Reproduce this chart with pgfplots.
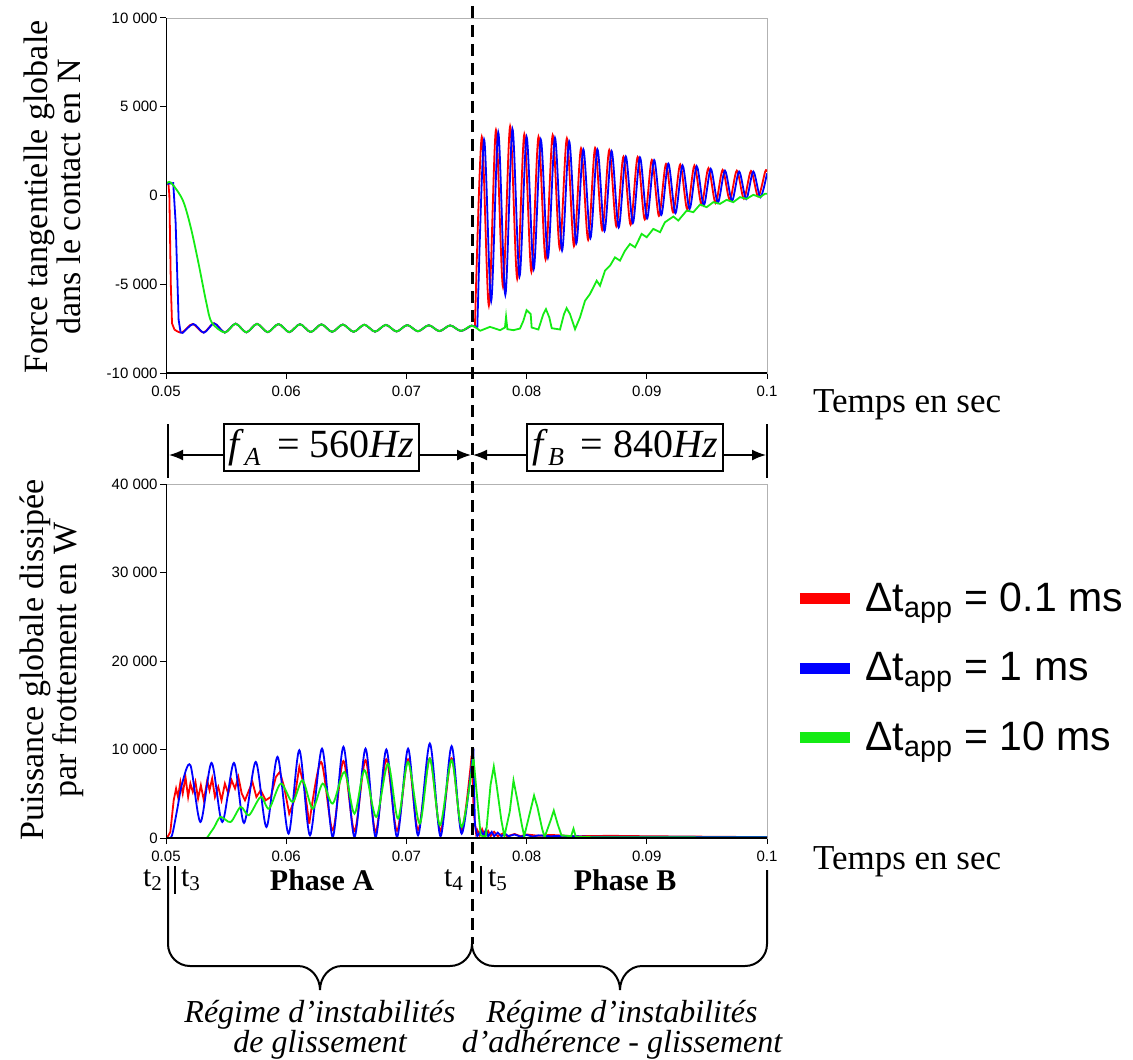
\documentclass[border=0pt]{standalone}
\usepackage{fontspec}
\setmainfont{Liberation Serif}
\setsansfont{Liberation Sans}
\usepackage{pgfplots}
\pgfplotsset{compat=1.18}
\usetikzlibrary{arrows.meta}
\definecolor{cred}{RGB}{255,0,0}
\definecolor{cblue}{RGB}{0,0,255}
\definecolor{cgreen}{RGB}{20,235,20}
\pgfplotsset{
  base/.style={
    scale only axis, width=300.5pt,
    xmin=0.05, xmax=0.1,
    scaled x ticks=false, scaled y ticks=false,
    axis line style={draw=gray!60, line width=0.4pt},
    tick align=outside, xtick pos=bottom, ytick pos=left,
    major tick length=3pt,
    tick style={black, line width=0.5pt},
    xtick={0.05,0.06,0.07,0.08,0.09,0.1},
    xticklabels={0.05,0.06,0.07,0.08,0.09,0.1},
    ticklabel style={font=\sffamily\fontsize{7.5}{9}\selectfont},
    yticklabel style={inner sep=1pt},
    every axis plot/.append style={line width=0.9pt},
  }
}
\begin{document}
\begin{tikzpicture}[x=0.5pt,y=-0.5pt]
\useasboundingbox (0,0) rectangle (1133,1059);

% ---------------- top axis ----------------
\begin{axis}[base, at={(83pt,-186.5pt)}, anchor=south west, height=177.5pt,
  ymin=-10000, ymax=10000,
  ytick={-10000,-5000,0,5000,10000},
  yticklabels={-10 000,-5 000,0,5 000,10 000}]
% red
\addplot[cred] coordinates {(0.05,650)(0.0502,700)(0.05028,0)(0.0504,-5000)(0.0505,-7200)(0.0507,-7550)};
\addplot[cred, smooth] coordinates {(0.0507,-7550)(0.05132,-7720)(0.05221,-7240)(0.05311,-7720)
 (0.05400,-7200)(0.05489,-7720)(0.05579,-7220)(0.05668,-7710)(0.05757,-7230)(0.05846,-7700)
 (0.05936,-7240)(0.06025,-7700)(0.06114,-7250)(0.06204,-7690)(0.06293,-7260)(0.06382,-7680)
 (0.06471,-7270)(0.06561,-7680)(0.06650,-7280)(0.06739,-7670)(0.06829,-7290)(0.06918,-7660)
 (0.07007,-7300)(0.07096,-7650)(0.07186,-7310)(0.07275,-7640)(0.07364,-7320)(0.07454,-7630)
 (0.07543,-7330)(0.0757,-7420)};
\addplot[cred, smooth] coordinates {(0.0757,-7420)(0.07627,3300)(0.07686,-6200)(0.07745,3690)
 (0.07804,-5150)(0.07863,3900)(0.07922,-4700)(0.07981,3450)(0.08040,-4300)(0.08099,3310)
 (0.08158,-3600)(0.08217,3400)(0.08276,-3000)(0.08335,3220)(0.08394,-2850)(0.08453,2660)
 (0.08512,-2500)(0.08570,2680)(0.08629,-1950)(0.08688,2570)(0.08747,-1750)(0.08806,2190)
 (0.08865,-1650)(0.08924,2170)(0.08983,-1350)(0.09042,2000)(0.09101,-1150)(0.09160,1780)
 (0.09219,-950)(0.09278,1750)(0.09337,-800)(0.09396,1690)(0.09455,-500)(0.09513,1540)
 (0.09572,-420)(0.09631,1440)(0.09690,-250)(0.09749,1400)(0.09808,-180)(0.09867,1380)
 (0.09926,-50)(0.09985,1350)(0.1,1340)};
% blue
\addplot[cblue] coordinates {(0.05,650)(0.0506,700)(0.0508,-1500)(0.05105,-7000)(0.0512,-7650)};
\addplot[cblue, smooth] coordinates {(0.0512,-7650)(0.05138,-7740)(0.05228,-7240)(0.05315,-7730)
 (0.05400,-7200)(0.05489,-7720)(0.05579,-7220)(0.05668,-7710)(0.05757,-7230)(0.05846,-7700)
 (0.05936,-7240)(0.06025,-7700)(0.06114,-7250)(0.06204,-7690)(0.06293,-7260)(0.06382,-7680)
 (0.06471,-7270)(0.06561,-7680)(0.06650,-7280)(0.06739,-7670)(0.06829,-7290)(0.06918,-7660)
 (0.07007,-7300)(0.07096,-7650)(0.07186,-7310)(0.07275,-7640)(0.07364,-7320)(0.07454,-7630)
 (0.07543,-7330)(0.0759,-7450)};
\addplot[cblue, smooth] coordinates {(0.0759,-7450)(0.07646,3150)(0.07705,-5950)(0.07764,3550)
 (0.07823,-5600)(0.07882,3750)(0.07941,-4550)(0.08000,3300)(0.08059,-4150)(0.08118,3150)
 (0.08177,-3500)(0.08236,3250)(0.08295,-3100)(0.08354,3050)(0.08413,-2700)(0.08472,2600)
 (0.08531,-2400)(0.08589,2600)(0.08648,-2000)(0.08707,2500)(0.08766,-1800)(0.08825,2200)
 (0.08884,-1550)(0.08943,2150)(0.09002,-1300)(0.09061,2000)(0.09120,-1100)(0.09179,1800)
 (0.09238,-1000)(0.09297,1700)(0.09356,-750)(0.09415,1650)(0.09474,-550)(0.09532,1500)
 (0.09591,-400)(0.09650,1400)(0.09709,-300)(0.09768,1350)(0.09827,-200)(0.09886,1350)
 (0.09945,-100)(0.1,1250)};
% green
\addplot[cgreen, smooth] coordinates {(0.05,640)(0.0504,730)(0.05138,-240)(0.05204,-1740)
 (0.0527,-3800)(0.05336,-6050)(0.0538,-7150)(0.05489,-7720)(0.05579,-7220)(0.05668,-7710)
 (0.05757,-7230)(0.05846,-7700)(0.05936,-7240)(0.06025,-7700)(0.06114,-7250)(0.06204,-7690)
 (0.06293,-7260)(0.06382,-7680)(0.06471,-7270)(0.06561,-7680)(0.06650,-7280)(0.06739,-7670)
 (0.06829,-7290)(0.06918,-7660)(0.07007,-7300)(0.07096,-7650)(0.07186,-7310)(0.07275,-7640)
 (0.07364,-7320)(0.07454,-7630)(0.07543,-7330)(0.07612,-7625)};
\addplot[cgreen] coordinates {(0.07612,-7625)(0.07695,-7400)(0.07779,-7588)(0.07820,-7437)
 (0.07829,-6835)(0.07840,-7531)(0.07890,-7588)(0.07945,-7494)(0.07973,-7060)(0.08000,-6458)
 (0.08034,-6684)(0.08042,-7437)(0.08098,-7550)(0.08139,-6684)(0.08161,-6401)(0.08189,-6872)
 (0.08209,-7475)(0.08278,-7550)(0.08311,-6684)(0.08333,-6345)(0.08361,-6684)(0.08403,-7531)
 (0.08444,-6872)(0.08486,-5930)(0.08527,-5553)(0.08583,-4800)(0.08611,-5083)(0.08652,-4236)
 (0.08694,-3953)(0.08735,-3483)(0.08777,-3671)(0.08819,-3106)(0.08860,-2729)(0.08902,-2917)
 (0.08957,-2164)(0.08999,-2353)(0.09054,-1882)(0.09110,-2070)(0.09151,-1505)(0.09221,-1185)
 (0.09262,-1411)(0.09332,-846)(0.09387,-941)(0.09443,-508)(0.09498,-658)(0.09553,-376)
 (0.09609,-470)(0.09664,-244)(0.09720,-376)(0.09775,-93)(0.09831,-187)(0.09886,38)
 (0.09942,-93)(0.09983,95)(0.1,100)};
\draw[black, line width=0.7pt] (rel axis cs:0,1) -- (rel axis cs:0,0) -- (rel axis cs:1,0);
\end{axis}

% ---------------- bottom axis ----------------
\begin{axis}[base, at={(83pt,-419pt)}, anchor=south west, height=177pt,
  ymin=0, ymax=40000,
  ytick={0,10000,20000,30000,40000},
  yticklabels={0,10 000,20 000,30 000,40 000},
  legend style={at={(1.035,0.48)}, anchor=west, draw=none, fill=none,
    font=\sffamily\fontsize{20.5}{24}\selectfont, row sep=15pt,
    /tikz/every odd column/.append style={column sep=3pt}},
  legend cell align=left,
  legend image code/.code={\draw[line width=5.5pt] (0pt,0pt) -- (25pt,0pt);}]
\addlegendimage{cred}
\addlegendentry{Δt\textsubscript{app} = 0.1 ms}
\addlegendimage{cblue}
\addlegendentry{Δt\textsubscript{app} = 1 ms}
\addlegendimage{cgreen}
\addlegendentry{Δt\textsubscript{app} = 10 ms}
% red
\addplot[cred, forget plot] coordinates {(0.05,0)(0.05008,0)(0.05036,680)(0.05064,4260)(0.05084,5590)
 (0.05100,4640)(0.0512,6340)(0.05139,5020)(0.05162,6900)(0.05184,4640)(0.05203,6150)(0.05223,5210)
 (0.05245,6340)(0.05267,4450)(0.0529,5960)(0.05315,4260)(0.05343,6530)(0.05362,5400)(0.05384,6720)
 (0.05407,4640)(0.05435,5770)(0.05462,4260)(0.0549,6150)(0.05518,5020)(0.05546,6530)(0.05574,5590)
 (0.05602,6900)(0.0563,5020)(0.05657,4260)(0.05685,5210)(0.05719,6340)(0.05752,4640)(0.05788,5400)
 (0.0583,4260)(0.05872,4640)(0.05914,6900)(0.05947,7470)(0.05983,5770)(0.06025,2750)(0.06067,4260)
 (0.06109,8040)(0.06151,5770)(0.06192,1620)};
\addplot[cred, smooth, forget plot] coordinates {(0.06192,1620)(0.0629,8600)(0.06387,900)(0.06476,8700)
 (0.06568,800)(0.0666,8800)(0.06744,700)(0.06833,8900)(0.06922,800)(0.07014,8900)(0.07097,900)
 (0.07195,9000)(0.07284,800)(0.07376,9000)(0.0746,900)(0.07543,9300)};
\addplot[cred, forget plot] coordinates {(0.07543,9300)(0.0756,3000)(0.0758,500)(0.0759,900)(0.0761,300)
 (0.0763,1000)(0.0765,300)(0.0768,800)(0.077,200)(0.0773,700)(0.0776,200)(0.078,500)(0.0784,200)
 (0.079,450)(0.0795,200)(0.08,400)(0.081,250)(0.082,350)(0.084,200)(0.087,250)(0.09,200)
 (0.095,150)(0.1,100)};
% blue
\addplot[cblue, forget plot] coordinates {(0.05,0)(0.0502,0)};
\addplot[cblue, smooth, forget plot] coordinates {(0.0502,0)(0.0505,300)(0.05092,3130)(0.05134,6150)
 (0.05203,8230)(0.05287,1810)(0.05379,8490)(0.05468,1810)(0.05565,8490)(0.05649,1700)(0.05747,8600)
 (0.05836,1245)(0.05928,9170)(0.0602,490)(0.06109,9920)(0.06198,300)(0.06298,10100)(0.06387,110)
 (0.06476,10300)(0.06568,110)(0.0666,10100)(0.06744,110)(0.06833,10000)(0.06922,110)(0.07014,10100)
 (0.07097,300)(0.07195,10680)(0.07284,190)(0.07376,10380)(0.0746,490)(0.07557,10100)};
\addplot[cblue, forget plot] coordinates {(0.07557,10100)(0.0757,1500)(0.0759,200)(0.0762,800)(0.0764,300)
 (0.0766,900)(0.0768,200)(0.0771,700)(0.0773,200)(0.0776,600)(0.0779,200)(0.0782,500)(0.0785,200)
 (0.079,400)(0.0795,150)(0.08,350)(0.0805,150)(0.081,300)(0.082,200)(0.083,250)(0.085,150)
 (0.09,150)(0.095,120)(0.1,100)};
% green
\addplot[cgreen, forget plot] coordinates {(0.05,0)(0.0534,0)};
\addplot[cgreen, smooth, forget plot] coordinates {(0.0534,0)(0.0540,1200)(0.05454,2380)(0.05538,1810)
 (0.05621,3510)(0.0569,2570)(0.05788,4640)(0.05858,3320)(0.05955,6150)(0.06053,4075)(0.06136,6530)
 (0.0622,3320)(0.06304,6150)(0.06387,3890)(0.06485,7470)(0.06568,2750)(0.06652,7660)(0.06749,2380)
 (0.06847,8410)(0.0693,2190)(0.07014,8600)(0.07111,1620)(0.07195,8980)(0.07279,1430)(0.07376,8790)
 (0.0746,1245)(0.07557,9170)};
\addplot[cgreen, forget plot] coordinates {(0.07557,9170)(0.07618,300)(0.0766,100)(0.0770,6000)
 (0.07727,8080)(0.0775,6000)(0.0779,2000)(0.07815,200)(0.0786,3000)(0.07891,6500)(0.0792,4500)
 (0.0796,1500)(0.0798,200)(0.0803,3000)(0.08062,4800)(0.0809,3500)(0.0813,1000)(0.0815,100)
 (0.0820,2000)(0.08226,3100)(0.0826,1500)(0.0829,300)(0.0837,200)(0.0839,1050)(0.0841,100)
 (0.0845,100)(0.1,50)};
\draw[black, line width=0.7pt] (rel axis cs:0,1) -- (rel axis cs:0,0) -- (rel axis cs:1,0);
\end{axis}

% ---------------- annotations ----------------
\node[rotate=90, align=center, font=\fontsize{17}{16.5}\selectfont] at (52,197)
  {Force tangentielle globale\\dans le contact en N};
\node[rotate=90, align=center, font=\fontsize{17}{16.5}\selectfont] at (52,660)
  {Puissance globale dissipée\\par frottement en W};
\node[anchor=west, font=\fontsize{17.5}{20}\selectfont] at (806,405) {Temps en sec};
\node[anchor=west, font=\fontsize{17.5}{20}\selectfont] at (806,862) {Temps en sec};

% frequency row
\draw[line width=1.2pt] (168,424) -- (168,478);
\draw[line width=1.2pt] (767,424) -- (767,478);
\node[draw, line width=1pt, minimum width=97.5pt, minimum height=23.5pt, inner sep=0pt,
  font=\fontsize{20}{20}\selectfont] at (321.5,447.5)
  {\textit{f}\raisebox{-0.45ex}{\fontsize{13}{13}\selectfont\textit{A}}\, = 560\textit{Hz}};
\node[draw, line width=1pt, minimum width=98pt, minimum height=23.5pt, inner sep=0pt,
  font=\fontsize{20}{20}\selectfont] at (625,447.5)
  {\textit{f}\raisebox{-0.45ex}{\fontsize{13}{13}\selectfont\textit{B}}\, = 840\textit{Hz}};
\draw[line width=0.8pt, -{Latex[length=7pt,width=5.5pt]}] (224,455) -- (169,455);
\draw[line width=0.8pt, -{Latex[length=7pt,width=5.5pt]}] (419,455) -- (471,455);
\draw[line width=0.8pt, -{Latex[length=7pt,width=5.5pt]}] (527,455) -- (473,455);
\draw[line width=0.8pt, -{Latex[length=7pt,width=5.5pt]}] (723,455) -- (766,455);

% dashed separator
\draw[line width=1.5pt, dash pattern=on 6pt off 3.5pt] (472,6) -- (472,944);

% phase labels
\node[font=\fontsize{15}{15}\selectfont] at (153,880) {t\textsubscript{2}};
\node[font=\fontsize{15}{15}\selectfont] at (191,880) {t\textsubscript{3}};
\node[font=\bfseries\fontsize{15}{15}\selectfont] at (322,880) {Phase A};
\node[font=\fontsize{15}{15}\selectfont] at (454,880) {t\textsubscript{4}};
\node[font=\fontsize{15}{15}\selectfont] at (498,880) {t\textsubscript{5}};
\node[font=\bfseries\fontsize{15}{15}\selectfont] at (625,880) {Phase B};
\draw[line width=1pt] (175,866) -- (175,894);
\draw[line width=1pt] (481,866) -- (481,894);
\draw[line width=1pt] (168,866) -- (168,944) to[out=-90,in=180] (190,966) -- (298,966)
  to[out=0,in=90] (320,990) to[out=90,in=180] (342,966) -- (450,966) to[out=0,in=-90] (472,944);
\draw[line width=1pt] (472,944) to[out=-90,in=180] (494,966) -- (598,966)
  to[out=0,in=90] (620,990) to[out=90,in=180] (642,966) -- (745,966) to[out=0,in=-90] (767,944) -- (767,870);
\node[align=center, font=\itshape\fontsize{16}{15}\selectfont] at (320,1030)
  {Régime d’instabilités\\de glissement};
\node[align=center, font=\itshape\fontsize{16}{15}\selectfont] at (622,1030)
  {Régime d’instabilités\\d’adhérence - glissement};
\end{tikzpicture}
\end{document}
